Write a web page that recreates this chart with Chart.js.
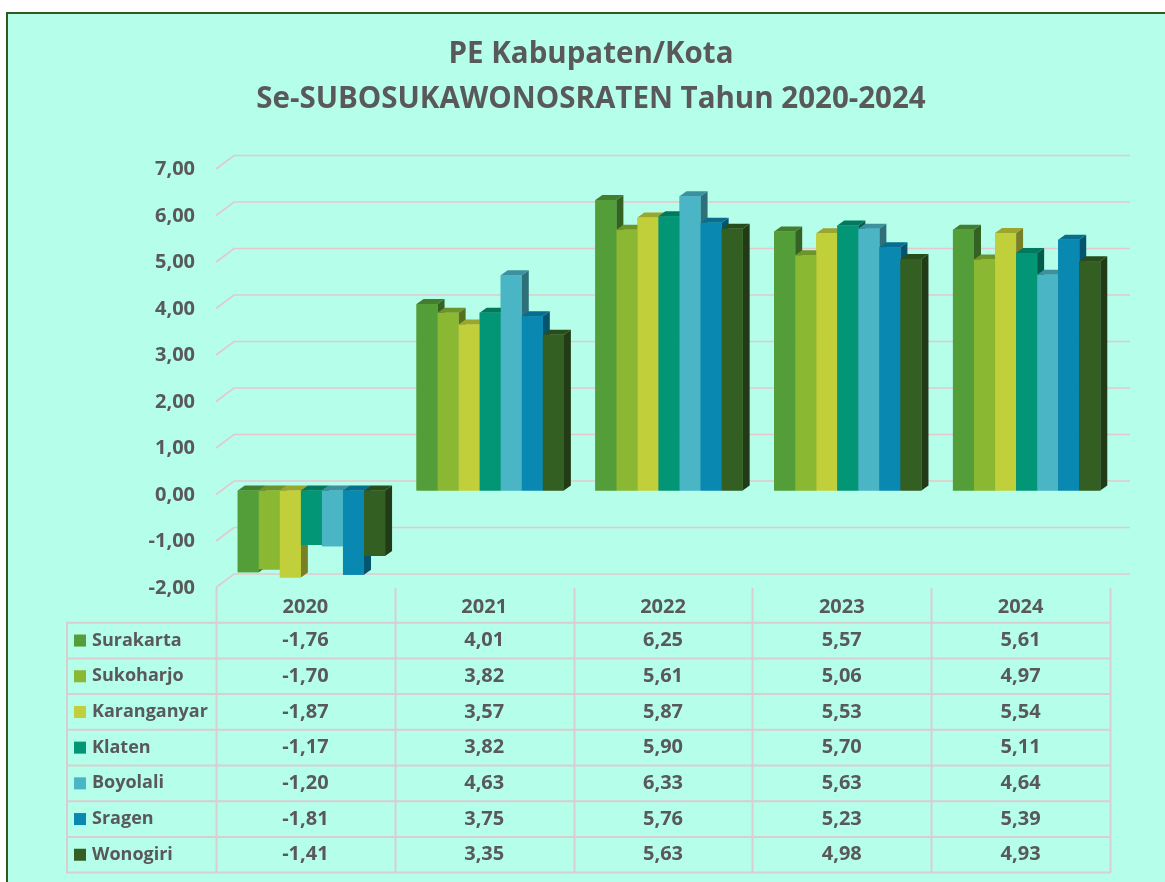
<!DOCTYPE html>
<html><head><meta charset="utf-8">
<script src="https://cdn.jsdelivr.net/npm/chart.js@4.4.1/dist/chart.umd.min.js"></script>
<style>
html,body{margin:0;padding:0;background:#fff;overflow:hidden;}
#frame{position:absolute;left:6px;top:12px;width:1170px;height:880px;border:2px solid #2f5a1e;background:#b5feea;}
#wrap{position:absolute;left:0;top:0;width:1165px;height:882px;}
</style></head><body>
<div id="frame"></div>
<div id="wrap"><canvas id="c" width="1165" height="882"></canvas></div>
<script>
// ---- data ----
const categories = ['2020', '2021', '2022', '2023', '2024'];
const seriesNames = ['Surakarta', 'Sukoharjo', 'Karanganyar', 'Klaten', 'Boyolali', 'Sragen', 'Wonogiri'];
const surakarta   = [-1.76, 4.01, 6.25, 5.57, 5.61];
const sukoharjo   = [-1.70, 3.82, 5.61, 5.06, 4.97];
const karanganyar = [-1.87, 3.57, 5.87, 5.53, 5.54];
const klaten      = [-1.17, 3.82, 5.90, 5.70, 5.11];
const boyolali    = [-1.20, 4.63, 6.33, 5.63, 4.64];
const sragen      = [-1.81, 3.75, 5.76, 5.23, 5.39];
const wonogiri    = [-1.41, 3.35, 5.63, 4.98, 4.93];
const yTicks = [7, 6, 5, 4, 3, 2, 1, 0, -1, -2];
const titleLines = ['PE Kabupaten/Kota', 'Se-SUBOSUKAWONOSRATEN Tahun 2020-2024'];

// ---- styles ----
const seriesColors = ['#549E39', '#8AB833', '#C0CF3A', '#029676', '#4AB5C4', '#0989B1', '#335F22'];
const TEXT = '#595959';
const FONT = '"Open Sans", "DejaVu Sans", sans-serif';
const fmt = v => v.toFixed(2).replace('.', ',');

function shade(hex, f) {
  const n = parseInt(hex.slice(1), 16);
  const r = Math.round(((n >> 16) & 255) * f), g = Math.round(((n >> 8) & 255) * f), b = Math.round((n & 255) * f);
  return `rgb(${r},${g},${b})`;
}

const allSeries = [surakarta, sukoharjo, karanganyar, klaten, boyolali, sragen, wonogiri];

const DX = 7, DY = 5; // bar depth

const threeD = {
  id: 'threeD',
  beforeDatasetsDraw(chart) {
    const { ctx, chartArea: ca, scales: { y } } = chart;
    ctx.save();
    ctx.strokeStyle = '#e3c8cd';
    ctx.lineWidth = 1.6;
    y.ticks.forEach(t => {
      const py = y.getPixelForValue(t.value);
      ctx.beginPath();
      ctx.moveTo(ca.left - 6, py + 4);
      ctx.lineTo(ca.left + 12, py - 9.5);
      ctx.lineTo(ca.right + 14, py - 9.5);
      ctx.stroke();
    });
    ctx.restore();
  },
  afterDatasetsDraw(chart) {
    const ctx = chart.ctx;
    const nd = chart.data.datasets.length;
    for (let j = 0; j < categories.length; j++) {
      for (let i = 0; i < nd; i++) {
        const meta = chart.getDatasetMeta(i);
        const el = meta.data[j];
        const p = el.getProps(['x', 'y', 'base', 'width'], true);
        const L = p.x - p.width / 2, R = p.x + p.width / 2;
        const T = Math.min(p.y, p.base), B = Math.max(p.y, p.base);
        const col = seriesColors[i];
        ctx.save();
        ctx.fillStyle = shade(col, 0.62);
        ctx.beginPath();
        ctx.moveTo(R, T); ctx.lineTo(R + DX, T - DY); ctx.lineTo(R + DX, B - DY); ctx.lineTo(R, B);
        ctx.closePath(); ctx.fill();
        ctx.fillStyle = shade(col, 0.8);
        ctx.beginPath();
        ctx.moveTo(L, T); ctx.lineTo(L + DX, T - DY); ctx.lineTo(R + DX, T - DY); ctx.lineTo(R, T);
        ctx.closePath(); ctx.fill();
        ctx.restore();
        el.draw(ctx);
      }
    }
  },
  afterDraw(chart) {
    const { ctx, chartArea: ca } = chart;
    // title
    ctx.save();
    ctx.fillStyle = TEXT;
    ctx.textAlign = 'center';
    ctx.textBaseline = 'middle';
    ctx.font = `bold 29.5px ${FONT}`;
    ctx.fillText(titleLines[0], 591, 55);
    ctx.fillText(titleLines[1], 591, 100);

    // data table
    const nc = categories.length;
    const cw = (ca.right - ca.left) / nc;
    const x0 = ca.left - 6;
    const headTop = 588, rowTop = 622.7, rh = 35.7;
    const nr = chart.data.datasets.length;
    const tableLeft = 67;
    const tableRight = x0 + nc * cw;
    ctx.strokeStyle = '#dacdd0';
    ctx.lineWidth = 2;
    ctx.beginPath();
    for (let k = 0; k <= nc; k++) {
      const x = Math.round(x0 + k * cw) + 0.5;
      ctx.moveTo(x, headTop); ctx.lineTo(x, rowTop + nr * rh);
    }
    ctx.moveTo(tableLeft, rowTop); ctx.lineTo(tableLeft, rowTop + nr * rh);
    for (let r = 0; r <= nr; r++) {
      const y = rowTop + r * rh;
      ctx.moveTo(tableLeft - 1, y); ctx.lineTo(tableRight + 1, y);
    }
    ctx.stroke();

    ctx.font = `bold 20px ${FONT}`;
    ctx.fillStyle = TEXT;
    ctx.textAlign = 'center';
    categories.forEach((c, k) => ctx.fillText(c, x0 + k * cw + cw / 2, 607));
    chart.data.datasets.forEach((ds, r) => {
      const cy = rowTop + r * rh + rh / 2;
      ctx.fillStyle = seriesColors[r];
      ctx.fillRect(74, cy - 6, 12, 12);
      ctx.fillStyle = TEXT;
      ctx.textAlign = 'left';
      ctx.font = `bold 18px ${FONT}`;
      ctx.fillText(ds.label, 92, cy);
      ctx.font = `bold 20px ${FONT}`;
      ctx.textAlign = 'center';
      ds.data.forEach((v, k) => ctx.fillText(fmt(v), x0 + k * cw + cw / 2, cy));
    });
    ctx.restore();
  }
};

new Chart(document.getElementById('c'), {
  type: 'bar',
  data: {
    labels: categories,
    datasets: seriesNames.map((name, i) => ({
      label: name,
      data: allSeries[i],
      backgroundColor: seriesColors[i],
      borderWidth: 0,
      categoryPercentage: 0.824,
      barPercentage: 1.0
    }))
  },
  options: {
    responsive: false,
    animation: false,
    devicePixelRatio: 1,
    layout: { padding: { top: 165, right: 49, bottom: 298.5, left: 0 } },
    plugins: { legend: { display: false }, title: { display: false }, tooltip: { enabled: false } },
    scales: {
      x: { display: false, grid: { display: false } },
      y: {
        min: -2, max: 7,
        afterBuildTicks: s => { s.ticks = yTicks.map(v => ({ value: v })); },
        afterFit: s => { s.width = 222; },
        grid: { display: false, drawTicks: false },
        border: { display: false },
        ticks: {
          callback: v => fmt(v),
          color: TEXT,
          padding: 27,
          labelOffset: 4.5,
          font: { family: FONT, weight: 'bold', size: 20 }
        }
      }
    }
  },
  plugins: [threeD]
});
</script>
</body></html>
